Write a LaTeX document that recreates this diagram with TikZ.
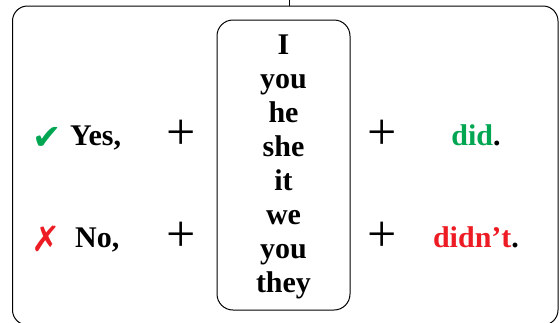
\documentclass[tikz,border=0pt]{standalone}
\usepackage{fontspec}
\setmainfont{Liberation Serif}
\newfontfamily\symfont{DejaVu Sans}
\definecolor{yesgreen}{RGB}{0,166,81}
\definecolor{nored}{RGB}{237,28,36}
\begin{document}
\begin{tikzpicture}[x=1pt,y=-1pt,
  every node/.style={font=\fontsize{30}{33.9}\selectfont\bfseries,inner sep=0pt},
  plus/.style={font=\fontsize{52}{52}\selectfont},
  signmark/.style={font=\symfont\fontsize{35}{35}\selectfont}]
  \useasboundingbox (0,0) rectangle (560,322);
  % outer frame
  \node (frame) [draw,line width=1pt,rounded corners=15pt,minimum width=545.5pt,minimum height=319pt] at (285.25,165.5) {};
  \coordinate (stem) at (289,0);
  \draw[line width=1pt] (stem) -- (stem |- frame.north);
  % subject pronouns
  \node (pron) [draw,line width=1pt,rounded corners=16pt,minimum width=133pt,minimum height=290pt,
    text depth=2.5pt,align=center] at (283.5,165)
    {I\\you\\he\\she\\it\\we\\you\\they};
  % yes row
  \node (tick) [signmark,text=yesgreen] at (47,138) {✔};
  \node (yes) [anchor=base west] at (70,145) {Yes,};
  \node (p1) [plus] at (181,135) {+};
  \node (p2) [plus] at (382,135) {+};
  \node (did) [anchor=base] at (476,145) {\textcolor{yesgreen}{did}.};
  % no row
  \node (cross) [signmark,text=nored] at (46,239) {✗};
  \node (no) [anchor=base west] at (75,247) {No,};
  \node (p3) [plus] at (181,237) {+};
  \node (p4) [plus] at (382,237) {+};
  \node (didnt) [anchor=base] at (476,247) {\textcolor{nored}{didn’t}.};
\end{tikzpicture}
\end{document}
